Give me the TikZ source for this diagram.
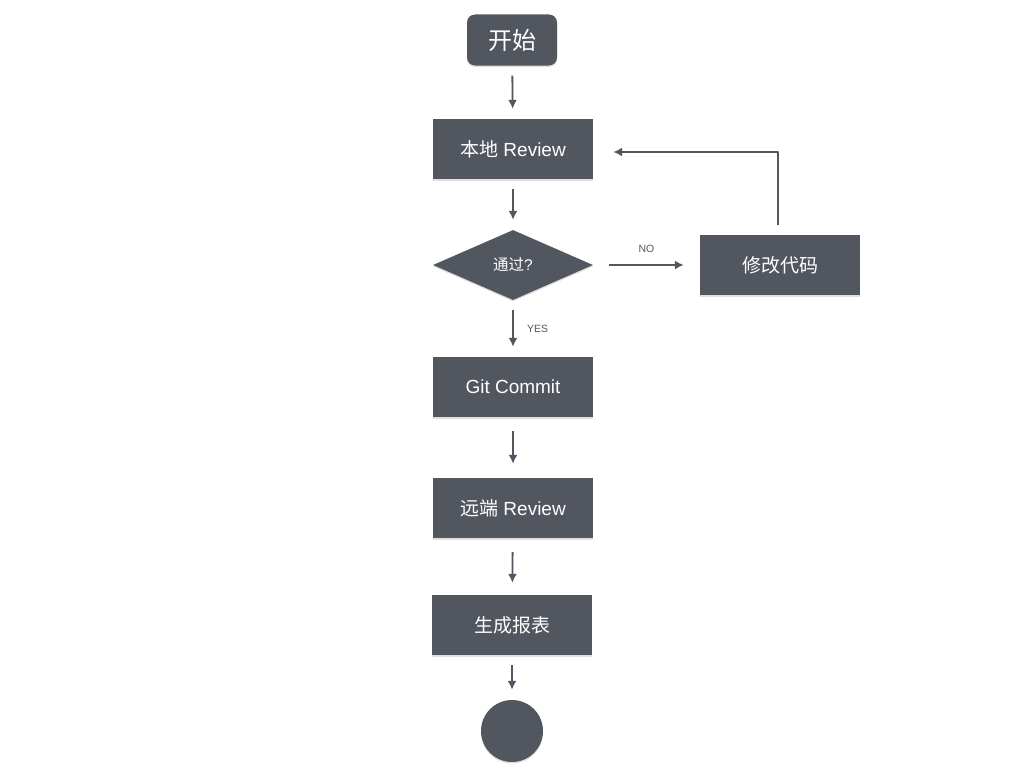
\documentclass[tikz,border=0pt]{standalone}
\usepackage{fontspec}
\setmainfont{Liberation Sans}
\newfontfamily\cjk{Noto Sans CJK SC}
\usetikzlibrary{positioning}
\usetikzlibrary{arrows.meta}
\usetikzlibrary{shapes.geometric}
\usetikzlibrary{shadows}
\definecolor{slate}{HTML}{52565F}
\tikzset{
  stepbox/.style={rectangle,fill=slate,text=white,minimum width=160pt,minimum height=60pt,inner sep=0pt,font=\fontsize{19}{21}\selectfont,drop shadow={opacity=0.25,shadow xshift=0pt,shadow yshift=-1.5pt}},
  flowline/.style={color=slate,line width=1.8pt,->,shorten >=10pt,shorten <=10pt},
  tag/.style={text=slate,font=\fontsize{10.5}{12}\selectfont}
}
\begin{document}
\begin{tikzpicture}[>={Latex[length=9pt,width=9pt]},line join=bevel,x=1pt,y=-1pt]
        \useasboundingbox (0,0) rectangle (1024,768);
        %
        \node (start) at (512,40) [stepbox,rounded corners=8pt,minimum width=90pt,minimum height=51pt,font=\fontsize{24}{26}\selectfont] {\cjk 开始};
        \node (localreview) at (513,149) [stepbox] {{\cjk 本地} Review};
        \node (passed) at (513,265) [diamond,fill=slate,text=white,minimum width=160pt,minimum height=70pt,aspect=2.3,inner sep=0pt,font=\fontsize{15.5}{17}\selectfont,drop shadow={opacity=0.25,shadow xshift=0pt,shadow yshift=-1.5pt}] {{\cjk 通过}?};
        \node (fixcode) at (780,265) [stepbox] {\cjk 修改代码};
        \node (commit) at (513,387) [stepbox] {Git Commit};
        \node (remotereview) at (513,508) [stepbox] {{\cjk 远端} Review};
        \node (report) at (512,625) [stepbox] {\cjk 生成报表};
        \node (finish) at (512,731) [circle,fill=slate,minimum size=62pt,inner sep=0pt,drop shadow={opacity=0.25,shadow xshift=0pt,shadow yshift=-1.5pt}] {};
        %
        \draw [flowline] (start) to (localreview);
        \draw [flowline] (localreview) to (passed);
        \draw [flowline,shorten <=16pt,shorten >=16pt] (passed) to node[tag,above=8pt] {NO} (fixcode);
        \draw [flowline,shorten >=20pt] ([xshift=-2pt]fixcode.north) |- ([yshift=-3pt]localreview.east);
        \draw [flowline] (passed) to node[tag,right=10pt] {YES} (commit);
        \draw [flowline,shorten <=14pt,shorten >=14pt] (commit) to (remotereview);
        \draw [flowline,shorten <=14pt,shorten >=12pt] (remotereview) to (report);
        \draw [flowline] (report) to (finish);
        %
    \end{tikzpicture}
\end{document}
